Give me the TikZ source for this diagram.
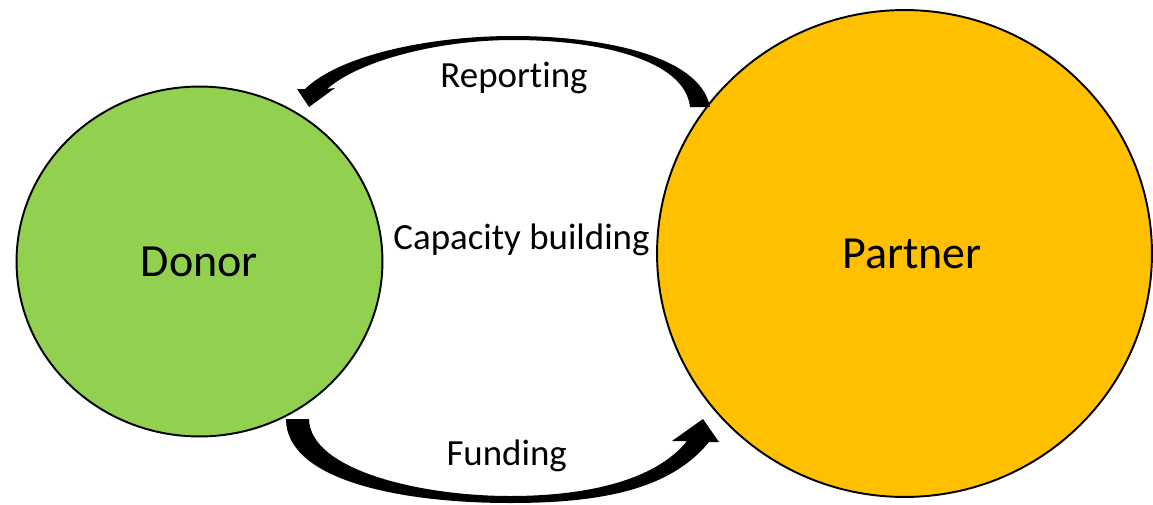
\documentclass[tikz,border=0pt]{standalone}
\usepackage{fontspec}
\setmainfont{Carlito}[Ligatures=NoCommon]
\usetikzlibrary{shapes.geometric}
\definecolor{donorgreen}{HTML}{92D050}
\definecolor{partnergold}{HTML}{FFC000}

\begin{document}
\begin{tikzpicture}[x=0.02cm, y=-0.02cm,
        party/.style={ellipse, draw=black, line width=1.1pt, inner sep=0pt, font=\fontsize{26.2}{30}\selectfont},
        flowlab/.style={font=\fontsize{21}{25}\selectfont, anchor=base},
        blockarrow/.style={fill=black, draw=none}
    ]
        \useasboundingbox (0,0) rectangle (1153,504);

        % Donor and Partner
        \node[party, fill=donorgreen, minimum width=7.32cm, minimum height=7cm] (donor) at (199.5,261.5) {Donor};
        \node[party, fill=partnergold, minimum width=9.9cm, minimum height=9.74cm] (partner) at (904.5,253.5) {\hspace*{0.3cm}Partner};

        % Reporting: Partner -> Donor
        \fill[blockarrow] (690,107) -- (710,107)
            .. controls (700,55) and (600,36) .. (513,36)
            .. controls (430,36) and (340,55) .. (305,89)
            -- (297,89) -- (309,107) -- (335,88) -- (327,89)
            .. controls (360,60) and (440,40) .. (513,40)
            .. controls (600,40) and (685,60) .. (690,107) -- cycle;

        % Funding: Donor -> Partner
        \fill[blockarrow] (286,419) -- (309,419)
            .. controls (310,470) and (420,496) .. (510,496)
            .. controls (600,496) and (660,475) .. (687,441)
            -- (672,441) -- (703,419) -- (719,442) -- (709,442)
            .. controls (670,490) and (600,503) .. (510,503)
            .. controls (400,503) and (286,480) .. (286,419) -- cycle;

        % labels
        \node[flowlab] (rep) at (514,87) {Reporting};
        \node[flowlab] (cap) at (521.5,249) {Capacity building};
        \node[flowlab] (fund) at (506.7,465) {Funding};
    \end{tikzpicture}
\end{document}
